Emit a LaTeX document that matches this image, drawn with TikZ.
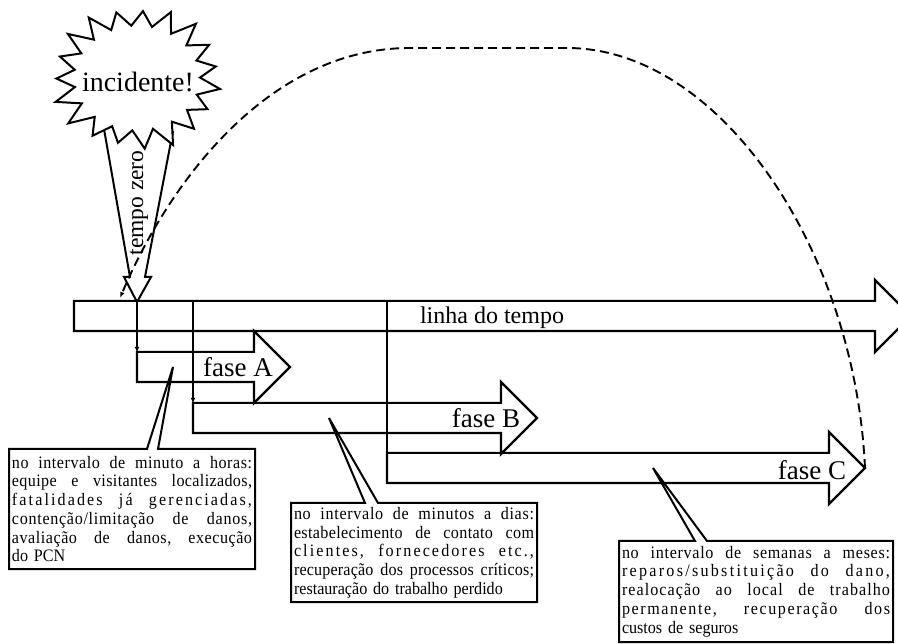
\documentclass[tikz,border=0pt]{standalone}
\usepackage{fontspec}
\setmainfont{Liberation Serif}
\usetikzlibrary{positioning}
\usetikzlibrary{calc}
\usetikzlibrary{shapes.arrows}
\usetikzlibrary{arrows.meta}
\setlength{\parindent}{0pt}
% one justified line: [width]{letter spacing}{text}
\newcommand{\jline}[3][240pt]{\leavevmode\hbox to #1{\addfontfeature{LetterSpace=#2}\frenchspacing\spaceskip=.2em plus 1fil\relax #3}}

\begin{document}
\begin{tikzpicture}[x=1pt,y=-1pt]
\tikzset{phase/.style={single arrow, draw, line width=2.2pt, anchor=tail, inner xsep=0pt, inner ysep=14pt, single arrow head extend=21pt, single arrow tip angle=90, outer sep=0pt}}
\tikzset{phaselabel/.style={font=\fontsize{27}{30}\selectfont, inner sep=0pt}}
\tikzset{infobox/.style={anchor=north west, inner xsep=3pt, inner ysep=0pt, outer sep=0pt, align=left, font=\fontsize{17.5}{18.7}\selectfont\addfontfeature{FakeStretch=0.92}}}
\tikzset{callbox/.style={line width=2pt, line join=miter}}
\tikzset{link/.style={line width=1.8pt, -{Latex[length=6pt,width=4.5pt]}}}
\useasboundingbox (0,0) rectangle (898,644);

% linha do tempo e fases
\node[phase, minimum height=837pt] (tl) at (74,316) {};
\node[phase, minimum height=153pt] (fA) at (137,367) {};
\node[phase, minimum height=344pt] (fB) at (193,418) {};
\node[phase, minimum height=478pt] (fC) at (387,468) {};
\node[phaselabel, font=\fontsize{24}{28}\selectfont] (tltext) at (492,318) {linha do tempo};
\node[phaselabel] (fAtext) at (238,367) {fase A};
\node[phaselabel] (fBtext) at (486,418) {fase B};
\node[phaselabel] (fCtext) at (812,470) {fase C};

% tempo zero
\coordinate (t0) at ($(tl.tail -| fA.tail)+(0,-14)$);
\draw[link] (t0) -- ($(fA.tail)+(0,-14)$);
\draw[link] (t0 -| fB.tail) -- ($(fB.tail)+(0,-14)$);
\draw[line width=2.8pt] (t0 -| fC.tail) -- ($(fC.tail)+(0,-14)$);
\draw[line width=2pt, line join=miter] ($(t0)+(-33,-173)$) -- ($(t0)+(-7,-25)$) -- ($(t0)+(-13,-25)$) -- (t0)
  -- ($(t0)+(14,-25)$) -- ($(t0)+(8,-25)$) -- ($(t0)+(36,-171)$);
\node[font=\fontsize{23.5}{26}\selectfont, rotate=90, inner sep=0pt] (tzero) at (139,203) {tempo zero};

% incidente
\coordinate (burst) at (137,78);
\draw[line width=2pt, fill=white, line join=miter] ($(burst)+(9:84 and 70)$)
  \foreach \i [evaluate=\i as \r using {mod(\i,2)==0 ? 1+0.05*sin(\i*137) : 0.75}] in {1,...,37}
  { -- ($(burst)+({9+\i*(360/38)}:{84*\r} and {70*\r})$) } -- cycle;
\node[font=\fontsize{28}{32}\selectfont, inner sep=0pt] (incid) at (138,82) {incidente!};

% retorno
\coordinate (zeroback) at (120,298);
\draw[line width=1.9pt, dash pattern=on 9pt off 5pt, -{Latex[length=6pt,width=4.5pt]}]
  (fC.tip) .. controls (855,250) and (720,48) .. (567,48) -- (410,48)
  .. controls (270,48) and (170,180) .. (zeroback);

% caixas
\node[infobox, text width=240pt, minimum height=120pt] (boxA) at (9,449) {%
\jline{3}{no intervalo de minuto a horas:}\\
\jline{2}{equipe e visitantes localizados,}\\
\jline{12}{fatalidades já gerenciadas,}\\
\jline{4}{contenção/limitação de danos,}\\
\jline{3}{avaliação de danos, execução}\\
do PCN};
\node[infobox, text width=240pt, minimum height=99pt] (boxB) at (291,503) {%
\jline{4}{no intervalo de minutos a dias:}\\
\jline{2}{estabelecimento de contato com}\\
\jline{12}{clientes, fornecedores etc.,}\\
\jline{1}{recuperação dos processos críticos;}\\
restauração do trabalho perdido};
\node[infobox, text width=268pt, minimum height=101pt] (boxC) at (619,541) {%
\jline[268pt]{4}{no intervalo de semanas a meses:}\\
\jline[268pt]{13}{reparos/substituição do dano,}\\
\jline[268pt]{6}{realocação ao local de trabalho}\\
\jline[268pt]{9}{permanente, recuperação dos}\\
custos de seguros};
\draw[callbox] (boxA.north west) -- ++(138,0) -- ($(fA.tail)+(36,0)$) -- ($(boxA.north west)+(149,0)$)
  -- (boxA.north east) -- (boxA.south east) -- (boxA.south west) -- cycle;
\draw[callbox] (boxB.north west) -- ++(74,0) -- ($(fB.tail)+(136,0)$) -- ($(boxB.north west)+(87,0)$)
  -- (boxB.north east) -- (boxB.south east) -- (boxB.south west) -- cycle;
\draw[callbox] (boxC.north west) -- ++(76,0) -- ($(fC.tail)+(266,0)$) -- ($(boxC.north west)+(88,0)$)
  -- (boxC.north east) -- (boxC.south east) -- (boxC.south west) -- cycle;
\end{tikzpicture}
\end{document}
